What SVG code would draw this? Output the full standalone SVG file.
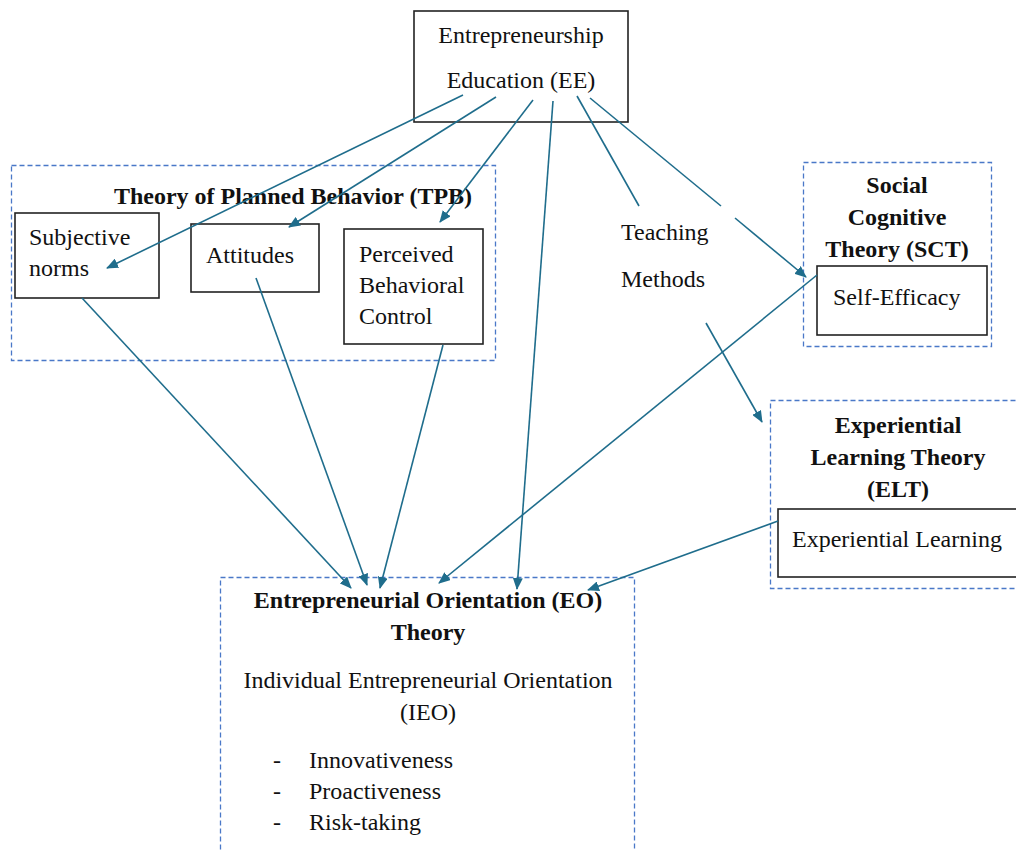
<svg xmlns="http://www.w3.org/2000/svg" width="1016" height="850" viewBox="0 0 1016 850">
<style>
text{font-family:"Liberation Serif","Times New Roman",serif;font-size:24px;fill:#111}
.b{font-weight:bold}
.c{text-anchor:middle}
.box{fill:#fff;stroke:#222;stroke-width:1.6}
.dash{fill:none;stroke:#4a78c8;stroke-width:1.3;stroke-dasharray:5 3}
.ar{stroke:#1f6d8c;stroke-width:1.6;fill:none}
</style>
<defs>
<marker id="ah" viewBox="0 0 12 10" refX="11" refY="5" markerWidth="12" markerHeight="10" markerUnits="userSpaceOnUse" orient="auto">
<path d="M0,0 L12,5 L0,10 Z" fill="#1f6d8c"/>
</marker>
</defs>
<rect width="1016" height="850" fill="#fff"/>

<g id="tpb">
<rect class="dash" x="11.5" y="165.5" width="484" height="195"/>
<text class="b c" x="293" y="204">Theory of Planned Behavior (TPB)</text>
</g>
<g id="sct">
<rect class="dash" x="803.5" y="162.5" width="188" height="184"/>
<text class="b c" x="897" y="193">Social</text>
<text class="b c" x="897" y="225">Cognitive</text>
<text class="b c" x="897" y="257">Theory (SCT)</text>
</g>
<g id="elt">
<rect class="dash" x="770.5" y="400.5" width="260" height="188"/>
<text class="b c" x="898" y="433">Experiential</text>
<text class="b c" x="898" y="465">Learning Theory</text>
<text class="b c" x="898" y="497">(ELT)</text>
</g>
<g id="eo">
<rect class="dash" x="220.5" y="577.5" width="414" height="290"/>
<text class="b c" x="428" y="608">Entrepreneurial Orientation (EO)</text>
<text class="b c" x="428" y="640">Theory</text>
<text class="c" x="428" y="688">Individual Entrepreneurial Orientation</text>
<text class="c" x="428" y="720">(IEO)</text>
<text x="273" y="768">-</text><text x="309" y="768">Innovativeness</text>
<text x="273" y="799">-</text><text x="309" y="799">Proactiveness</text>
<text x="273" y="830">-</text><text x="309" y="830">Risk-taking</text>
</g>

<g id="ee">
<rect class="box" x="414" y="11" width="214" height="111"/>
<text class="c" x="521" y="43">Entrepreneurship</text>
<text class="c" x="521" y="88">Education (EE)</text>
</g>
<g id="subjective-norms">
<rect class="box" x="15" y="213" width="144" height="85"/>
<text x="29" y="245">Subjective</text>
<text x="29" y="276">norms</text>
</g>
<g id="attitudes">
<rect class="box" x="191" y="224" width="128" height="68"/>
<text x="206" y="263">Attitudes</text>
</g>
<g id="pbc">
<rect class="box" x="344" y="229" width="139" height="115"/>
<text x="359" y="262">Perceived</text>
<text x="359" y="293">Behavioral</text>
<text x="359" y="324">Control</text>
</g>
<g id="teaching-methods">
<text x="621" y="240">Teaching</text>
<text x="621" y="287">Methods</text>
</g>
<g id="self-efficacy">
<rect class="box" x="817" y="266" width="170" height="69"/>
<text x="833" y="305">Self-Efficacy</text>
</g>
<g id="experiential-learning">
<rect class="box" x="778" y="509" width="250" height="68"/>
<text x="792" y="547">Experiential Learning</text>
</g>

<g id="connectors">
<line class="ar" x1="463" y1="95" x2="107" y2="268" marker-end="url(#ah)"/>
<line class="ar" x1="496" y1="97" x2="289" y2="227" marker-end="url(#ah)"/>
<line class="ar" x1="533" y1="100" x2="440" y2="222" marker-end="url(#ah)"/>
<line class="ar" x1="553" y1="101" x2="517" y2="589" marker-end="url(#ah)"/>
<line class="ar" x1="577" y1="96" x2="639" y2="206"/>
<line class="ar" x1="590" y1="98" x2="721" y2="206"/>
<line class="ar" x1="735" y1="218" x2="806" y2="277" marker-end="url(#ah)"/>
<line class="ar" x1="817" y1="275" x2="439" y2="583" marker-end="url(#ah)"/>
<line class="ar" x1="706" y1="323" x2="762" y2="422" marker-end="url(#ah)"/>
<line class="ar" x1="82" y1="298" x2="351" y2="588" marker-end="url(#ah)"/>
<line class="ar" x1="256" y1="278" x2="367" y2="585" marker-end="url(#ah)"/>
<line class="ar" x1="443" y1="345" x2="380" y2="588" marker-end="url(#ah)"/>
<line class="ar" x1="778" y1="521" x2="588" y2="590" marker-end="url(#ah)"/>
</g>
</svg>
